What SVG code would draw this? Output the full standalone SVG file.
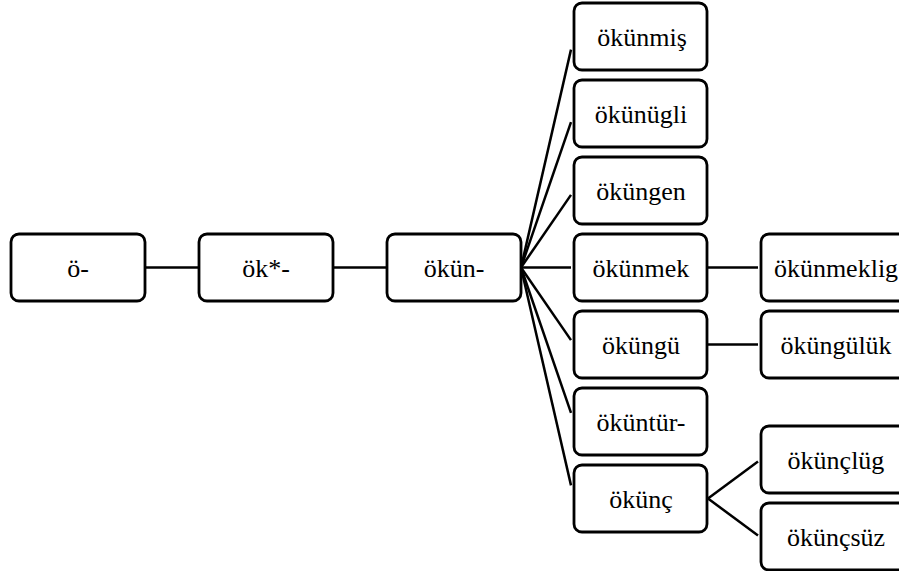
<svg xmlns="http://www.w3.org/2000/svg" width="899" height="571" viewBox="0 0 899 571">
<style>
.box{fill:#fff;stroke:#000;stroke-width:2.8}
.lbl{font-family:'Liberation Serif','Times New Roman',serif;font-size:26px;fill:#000;text-anchor:middle}
.ln{stroke:#000;stroke-width:2.5;fill:none}
</style>
<rect width="899" height="571" fill="#fff"/>
<g id="connectors">
<line class="ln" x1="145" y1="267.5" x2="198" y2="267.5"/>
<line class="ln" x1="333" y1="267.5" x2="386" y2="267.5"/>
<line class="ln" x1="521" y1="267.5" x2="571" y2="49.6"/>
<line class="ln" x1="521" y1="267.5" x2="571" y2="122.2"/>
<line class="ln" x1="521" y1="267.5" x2="571" y2="194.9"/>
<line class="ln" x1="521" y1="267.5" x2="571" y2="267.5"/>
<line class="ln" x1="521" y1="267.5" x2="571" y2="340.1"/>
<line class="ln" x1="521" y1="267.5" x2="571" y2="412.8"/>
<line class="ln" x1="521" y1="267.5" x2="571" y2="485.4"/>
<line class="ln" x1="707" y1="267.5" x2="758" y2="267.5"/>
<line class="ln" x1="707" y1="344.5" x2="758" y2="344.5"/>
<line class="ln" x1="708" y1="498.5" x2="758" y2="461.5"/>
<line class="ln" x1="708" y1="498.5" x2="758" y2="535.5"/>
</g>
<g id="n-o"><rect class="box" x="11" y="234" width="134" height="67" rx="8"/><text class="lbl" x="78" y="276.5">ö-</text></g>
<g id="n-ok"><rect class="box" x="199" y="234" width="134" height="67" rx="8"/><text class="lbl" x="266" y="276.5">ök*-</text></g>
<g id="n-okun"><rect class="box" x="387" y="234" width="134" height="67" rx="8"/><text class="lbl" x="454" y="276.5">ökün-</text></g>
<g id="n-okunmis"><rect class="box" x="574" y="3" width="133" height="67" rx="8"/><text class="lbl" x="642" y="45.5">ökünmiş</text></g>
<g id="n-okunugli"><rect class="box" x="574" y="80" width="133" height="67" rx="8"/><text class="lbl" x="641" y="122.5">ökünügli</text></g>
<g id="n-okungen"><rect class="box" x="574" y="157" width="133" height="67" rx="8"/><text class="lbl" x="641" y="199.5">öküngen</text></g>
<g id="n-okunmek"><rect class="box" x="574" y="234" width="133" height="67" rx="8"/><text class="lbl" x="641" y="276.5">ökünmek</text></g>
<g id="n-okungu"><rect class="box" x="574" y="311" width="133" height="67" rx="8"/><text class="lbl" x="641" y="353.5">öküngü</text></g>
<g id="n-okuntur"><rect class="box" x="574" y="388" width="133" height="67" rx="8"/><text class="lbl" x="641" y="430.5">öküntür-</text></g>
<g id="n-okunc"><rect class="box" x="574" y="465" width="133" height="67" rx="8"/><text class="lbl" x="641" y="507.5">ökünç</text></g>
<g id="n-okunmeklig"><rect class="box" x="761" y="234" width="150" height="67" rx="8"/><text class="lbl" x="836" y="276.5">ökünmeklig</text></g>
<g id="n-okungulük"><rect class="box" x="761" y="311" width="150" height="67" rx="8"/><text class="lbl" x="836" y="353.5">öküngülük</text></g>
<g id="n-okunclug"><rect class="box" x="761" y="426" width="150" height="67" rx="8"/><text class="lbl" x="836" y="468.5">ökünçlüg</text></g>
<g id="n-okuncsuz"><rect class="box" x="761" y="503" width="150" height="67" rx="8"/><text class="lbl" x="836" y="545.5">ökünçsüz</text></g>
</svg>
